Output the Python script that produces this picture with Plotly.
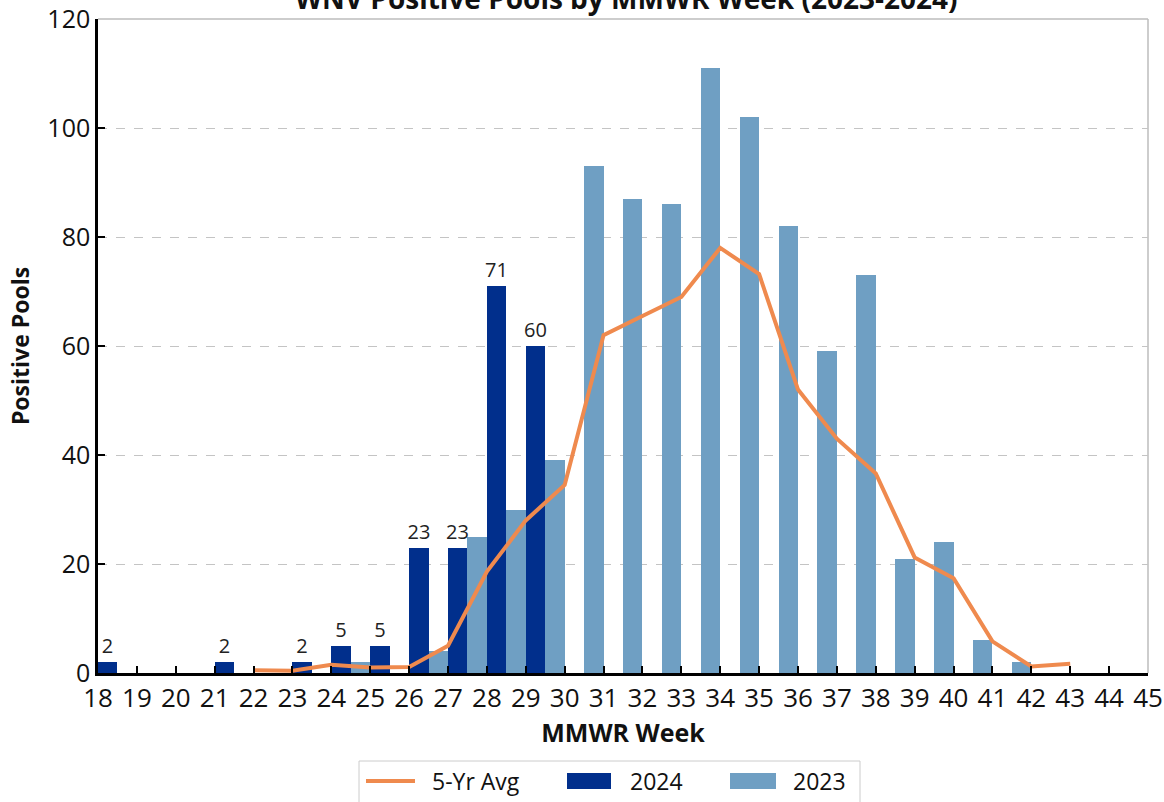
import plotly.graph_objects as go

# ---------------- data ----------------
weeks_2024 = [18, 21, 23, 24, 25, 26, 27, 28, 29]
pools_2024 = [2, 2, 2, 5, 5, 23, 23, 71, 60]

weeks_2023 = [25, 27, 28, 29, 30, 31, 32, 33, 34, 35, 36, 37, 38, 39, 40, 41, 42]
pools_2023 = [2, 4, 25, 30, 39, 93, 87, 86, 111, 102, 82, 59, 73, 21, 24, 6, 2]

weeks_avg = [22, 23, 24, 25, 26, 27, 28, 29, 30, 31, 32, 33, 34, 35, 36, 37, 38, 39, 40, 41, 42, 43]
avg_5yr = [0.5, 0.4, 1.5, 1.0, 1.1, 5.0, 18.6, 28.0, 34.5, 62, 65.5, 69, 78, 73.2, 52, 43, 36.6, 21.2, 17.4, 5.8, 1.2, 1.7]

x_ticks = list(range(18, 46))
y_ticks = [0, 20, 40, 60, 80, 100, 120]

# ---------------- style ----------------
C_2024 = "#012f8c"
C_2023 = "#6f9fc3"
C_AVG = "#ef8a4e"
FONT = "Open Sans"

W, H = 1164, 802
L, R, T, B = 98, 16, 19, 129
PW, PH = W - L - R, H - T - B


def px_x(px):
    return (px - L) / PW


def px_y(py):
    return (H - B - py) / PH


fig = go.Figure()

fig.add_trace(go.Bar(
    x=weeks_2023, y=pools_2023, width=0.5, offset=-0.5,
    marker=dict(color=C_2023, line=dict(width=0)),
    name="2023", showlegend=False,
))
fig.add_trace(go.Bar(
    x=weeks_2024, y=pools_2024, width=0.5, offset=0,
    marker=dict(color=C_2024, line=dict(width=0)),
    text=[str(v) for v in pools_2024], textposition="outside",
    constraintext="none",
    textfont=dict(family=FONT, size=20, color="#222222"),
    cliponaxis=False, name="2024", showlegend=False,
))
fig.add_trace(go.Scatter(
    x=weeks_avg, y=avg_5yr, mode="lines",
    line=dict(color=C_AVG, width=4),
    name="5-Yr Avg", showlegend=False,
))

shapes = [
    dict(type="line", xref="paper", yref="paper", x0=0, x1=1, y0=1, y1=1,
         line=dict(color="#bdbdbd", width=1.5), layer="below"),
    dict(type="line", xref="paper", yref="paper", x0=1, x1=1, y0=0, y1=1,
         line=dict(color="#bdbdbd", width=1.5), layer="below"),
    # custom legend
    dict(type="rect", xref="paper", yref="paper",
         x0=px_x(359), x1=px_x(860), y0=px_y(761), y1=px_y(812),
         line=dict(color="#cccccc", width=1), fillcolor="white"),
    dict(type="line", xref="paper", yref="paper",
         x0=px_x(366), x1=px_x(415), y0=px_y(781), y1=px_y(781),
         line=dict(color=C_AVG, width=4)),
    dict(type="rect", xref="paper", yref="paper",
         x0=px_x(567), x1=px_x(611), y0=px_y(773), y1=px_y(789),
         line=dict(width=0), fillcolor=C_2024),
    dict(type="rect", xref="paper", yref="paper",
         x0=px_x(730), x1=px_x(776), y0=px_y(773), y1=px_y(789),
         line=dict(width=0), fillcolor=C_2023),
]

annotations = [dict(
    text="<b>WNV Positive Pools by MMWR Week (2023-2024)</b>",
    xref="paper", yref="paper", x=px_x(626), y=px_y(-2),
    xanchor="center", yanchor="middle", showarrow=False,
    font=dict(family=FONT, size=28, color="#111111"),
)]
for label, xpx in [("5-Yr Avg", 430), ("2024", 628), ("2023", 791)]:
    annotations.append(dict(
        text=label, xref="paper", yref="paper", x=px_x(xpx), y=px_y(781),
        xanchor="left", yanchor="middle", showarrow=False,
        font=dict(family=FONT, size=23, color="#111111"),
    ))

fig.update_layout(
    width=W, height=H,
    margin=dict(l=L, r=R, t=T, b=B, autoexpand=False),
    paper_bgcolor="white", plot_bgcolor="white",
    barmode="overlay",
    bargap=0,
    showlegend=False,
    xaxis=dict(
        range=[18, 45], tickmode="array", tickvals=x_ticks,
        ticktext=[str(v) for v in x_ticks],
        showline=True, linecolor="black", linewidth=3,
        ticks="inside", ticklen=7, tickwidth=2, tickcolor="black",
        showgrid=False, zeroline=False, automargin=False,
        tickfont=dict(family=FONT, size=26, color="#111111"),
        title=dict(text="<b>MMWR Week</b>", standoff=2,
                   font=dict(family=FONT, size=25, color="#111111")),
    ),
    yaxis=dict(
        range=[0, 120], tickmode="array", tickvals=y_ticks,
        showline=True, linecolor="black", linewidth=2.5,
        ticks="inside", ticklen=7, tickwidth=2, tickcolor="black",
        showgrid=True, gridcolor="#c4c4c4", griddash="dash", gridwidth=1,
        zeroline=False, automargin=False,
        tickfont=dict(family=FONT, size=25, color="#111111"),
        title=dict(text="<b>Positive Pools</b>", standoff=12,
                   font=dict(family=FONT, size=23, color="#111111")),
    ),
    shapes=shapes,
    annotations=annotations,
)

fig.write_html(
    "out.html",
    config={"displayModeBar": False},
    post_script="document.body.style.margin='0';document.body.style.overflow='hidden';",
)
